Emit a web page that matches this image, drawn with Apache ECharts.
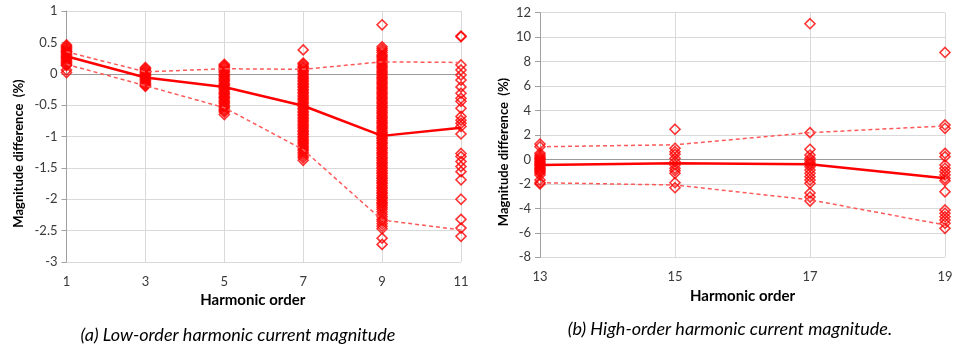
<!DOCTYPE html>
<html>
<head>
<meta charset="utf-8">
<script src="https://cdn.jsdelivr.net/npm/echarts@6/dist/echarts.min.js"></script>
<style>
  html, body { margin: 0; padding: 0; background: #ffffff; }
  #chart { width: 956px; height: 348px; }
</style>
</head>
<body>
<div id="chart"></div>
<script>
// Harmonic orders (x categories)
const lowOrders = ['1', '3', '5', '7', '9', '11'];
const highOrders = ['13', '15', '17', '19'];

// Measured magnitude differences (%) per harmonic order
const h1 = [0.46, 0.44, 0.42, 0.40, 0.38, 0.36, 0.35, 0.33, 0.31, 0.29, 0.27, 0.26, 0.24, 0.22, 0.20, 0.18, 0.16, 0.14, 0.13, 0.06, 0.02];
const h3 = [0.10, 0.08, 0.06, 0.04, 0.02, 0.00, -0.02, -0.03, -0.05, -0.07, -0.09, -0.11, -0.13, -0.15, -0.17, -0.19, -0.20];
const h5 = [0.15, 0.13, 0.11, 0.09, 0.06, 0.04, 0.02, -0.01, -0.03, -0.05, -0.08, -0.10, -0.12, -0.15, -0.17, -0.19, -0.22, -0.24, -0.26, -0.29, -0.31, -0.33, -0.36, -0.38, -0.40, -0.43, -0.45, -0.47, -0.50, -0.52, -0.54, -0.57, -0.59, -0.61, -0.65];
const h7 = [0.38, 0.17, 0.15, 0.12, 0.10, 0.08, 0.05, 0.03, 0.00, -0.02, -0.05, -0.07, -0.10, -0.12, -0.15, -0.17, -0.20, -0.22, -0.25, -0.27, -0.30, -0.32, -0.35, -0.37, -0.40, -0.42, -0.45, -0.47, -0.50, -0.52, -0.55, -0.57, -0.60, -0.62, -0.65, -0.67, -0.70, -0.72, -0.75, -0.77, -0.80, -0.82, -0.85, -0.87, -0.90, -0.92, -0.95, -0.97, -1.00, -1.02, -1.05, -1.07, -1.10, -1.12, -1.15, -1.17, -1.20, -1.22, -1.25, -1.28, -1.31, -1.34, -1.38];
const h9 = [0.78, 0.43, 0.40, 0.37, 0.34, 0.30, 0.28, 0.25, 0.22, 0.19, 0.17, 0.14, 0.11, 0.09, 0.06, 0.03, 0.01, -0.02, -0.05, -0.07, -0.10, -0.13, -0.15, -0.18, -0.21, -0.23, -0.26, -0.29, -0.31, -0.34, -0.37, -0.39, -0.42, -0.45, -0.47, -0.50, -0.53, -0.55, -0.58, -0.61, -0.63, -0.66, -0.69, -0.71, -0.74, -0.77, -0.79, -0.82, -0.85, -0.87, -0.90, -0.93, -0.95, -0.98, -1.01, -1.03, -1.06, -1.09, -1.11, -1.14, -1.17, -1.19, -1.22, -1.25, -1.27, -1.30, -1.33, -1.35, -1.38, -1.41, -1.43, -1.46, -1.49, -1.51, -1.54, -1.57, -1.59, -1.62, -1.65, -1.67, -1.70, -1.73, -1.75, -1.78, -1.81, -1.83, -1.86, -1.89, -1.91, -1.94, -1.97, -1.99, -2.02, -2.05, -2.07, -2.10, -2.13, -2.16, -2.20, -2.24, -2.28, -2.32, -2.35, -2.39, -2.43, -2.47, -2.62, -2.72];
const h11 = [0.60, 0.59, 0.14, 0.06, -0.02, -0.10, -0.21, -0.31, -0.39, -0.44, -0.55, -0.68, -0.74, -0.79, -0.84, -0.96, -1.27, -1.32, -1.40, -1.48, -1.56, -1.69, -2.00, -2.32, -2.46, -2.59];

const h13 = [1.26, 1.04, 0.50, 0.35, 0.21, 0.10, 0.01, -0.12, -0.20, -0.31, -0.42, -0.50, -0.61, -0.72, -0.80, -0.91, -1.02, -1.10, -1.27, -1.68, -1.90, -2.00];
const h15 = [2.47, 0.91, 0.63, 0.42, 0.09, -0.18, -0.45, -0.72, -0.92, -1.13, -1.90, -2.31];
const h17 = [11.10, 2.19, 0.83, 0.36, 0.09, -0.10, -0.27, -0.40, -0.59, -0.86, -1.13, -1.41, -1.68, -1.95, -2.74, -3.07, -3.40];
const h19 = [8.75, 2.82, 2.55, 0.50, 0.23, -0.45, -0.72, -1.00, -1.27, -1.54, -1.74, -2.64, -4.13, -4.40, -4.68, -4.95, -5.22, -5.63];

// Mean and envelope curves
const lowMean  = [0.28, -0.06, -0.21, -0.51, -0.99, -0.86];
const lowUpper = [0.35, 0.03, 0.08, 0.07, 0.19, 0.18];
const lowLower = [0.15, -0.19, -0.54, -1.21, -2.33, -2.49];
const highMean  = [-0.45, -0.31, -0.40, -1.54];
const highUpper = [1.04, 1.20, 2.19, 2.74];
const highLower = [-1.90, -2.09, -3.30, -5.36];

const RED = '#ff0000';
const GRID_COLOR = '#d9d9d9';
const AXIS_COLOR = '#a0a0a0';
const LABEL_COLOR = '#3a3a3a';
const FONT = 'Lato, "Noto Sans", sans-serif';

// Turn per-order value lists into [categoryIndex, value] points
function toPoints(groups) {
  const pts = [];
  groups.forEach((vals, i) => vals.forEach(v => pts.push([i, v])));
  return pts;
}

function xAxisFor(gridIndex, cats, namePad) {
  return {
    gridIndex, type: 'category', data: cats, boundaryGap: false,
    axisLine: { show: false }, axisTick: { show: false },
    axisLabel: { margin: 13, fontSize: 13, color: LABEL_COLOR, fontFamily: FONT },
    splitLine: { show: true, lineStyle: { color: GRID_COLOR, width: 1 } },
    name: 'Harmonic order', nameLocation: 'middle', nameGap: 31,
    nameTextStyle: { fontWeight: 'bold', fontSize: 15, color: '#000', fontFamily: FONT, padding: namePad }
  };
}

function yAxisFor(gridIndex, min, max, interval, nameGap) {
  return {
    gridIndex, type: 'value', min, max, interval,
    axisLine: { show: true, lineStyle: { color: AXIS_COLOR, width: 1 } },
    axisTick: { show: true, length: 5, lineStyle: { color: AXIS_COLOR } },
    axisLabel: { margin: 9, fontSize: 13, color: LABEL_COLOR, fontFamily: FONT },
    splitLine: { show: true, lineStyle: { color: GRID_COLOR, width: 1 } },
    name: 'Magnitude difference  (%)', nameLocation: 'middle', nameGap, nameRotate: 90,
    nameTextStyle: { fontWeight: 'bold', fontSize: 13, color: '#000', fontFamily: FONT, padding: [0, 34, 0, 0] }
  };
}

function scatterSeries(axisIndex, groups) {
  return {
    type: 'scatter', xAxisIndex: axisIndex, yAxisIndex: axisIndex,
    data: toPoints(groups), symbol: 'diamond', symbolSize: [10, 10],
    itemStyle: { color: 'rgba(255,255,255,0)', borderColor: RED, borderWidth: 1.6 },
    z: 3,
    markLine: {
      silent: true, symbol: 'none', label: { show: false },
      lineStyle: { color: '#9a9a9a', type: 'solid', width: 1 },
      data: [{ yAxis: 0 }], z: 1
    }
  };
}

function lineSeries(axisIndex, data, dashed) {
  return {
    type: 'line', xAxisIndex: axisIndex, yAxisIndex: axisIndex, data,
    symbol: 'none', z: dashed ? 4 : 5,
    lineStyle: dashed
      ? { color: '#ff5a5a', width: 1.5, type: [4, 3] }
      : { color: RED, width: 2.5 }
  };
}

const chart = echarts.init(document.getElementById('chart'), null, { renderer: 'canvas' });
chart.setOption({
  animation: false,
  backgroundColor: '#ffffff',
  grid: [
    { left: 66.5, top: 11, width: 394.5, height: 251, outerBoundsMode: 'none' },
    { left: 540, top: 12.7, width: 405, height: 244.6, outerBoundsMode: 'none' }
  ],
  xAxis: [xAxisFor(0, lowOrders, [0, 22, 0, 0]), xAxisFor(1, highOrders, [0, 0, 0, 0])],
  yAxis: [yAxisFor(0, -3, 1, 0.5, 41), yAxisFor(1, -8, 12, 2, 30)],
  series: [
    scatterSeries(0, [h1, h3, h5, h7, h9, h11]),
    lineSeries(0, lowUpper, true),
    lineSeries(0, lowLower, true),
    lineSeries(0, lowMean, false),
    scatterSeries(1, [h13, h15, h17, h19]),
    lineSeries(1, highUpper, true),
    lineSeries(1, highLower, true),
    lineSeries(1, highMean, false)
  ],
  graphic: [
    { type: 'text', x: 238, y: 335,
      style: { text: '(a) Low-order harmonic current magnitude', font: 'italic 18px ' + FONT, fill: '#000', textAlign: 'center', textVerticalAlign: 'middle' } },
    { type: 'text', x: 730, y: 329,
      style: { text: '(b) High-order harmonic current magnitude.', font: 'italic 18px ' + FONT, fill: '#000', textAlign: 'center', textVerticalAlign: 'middle' } }
  ]
});
</script>
</body>
</html>
